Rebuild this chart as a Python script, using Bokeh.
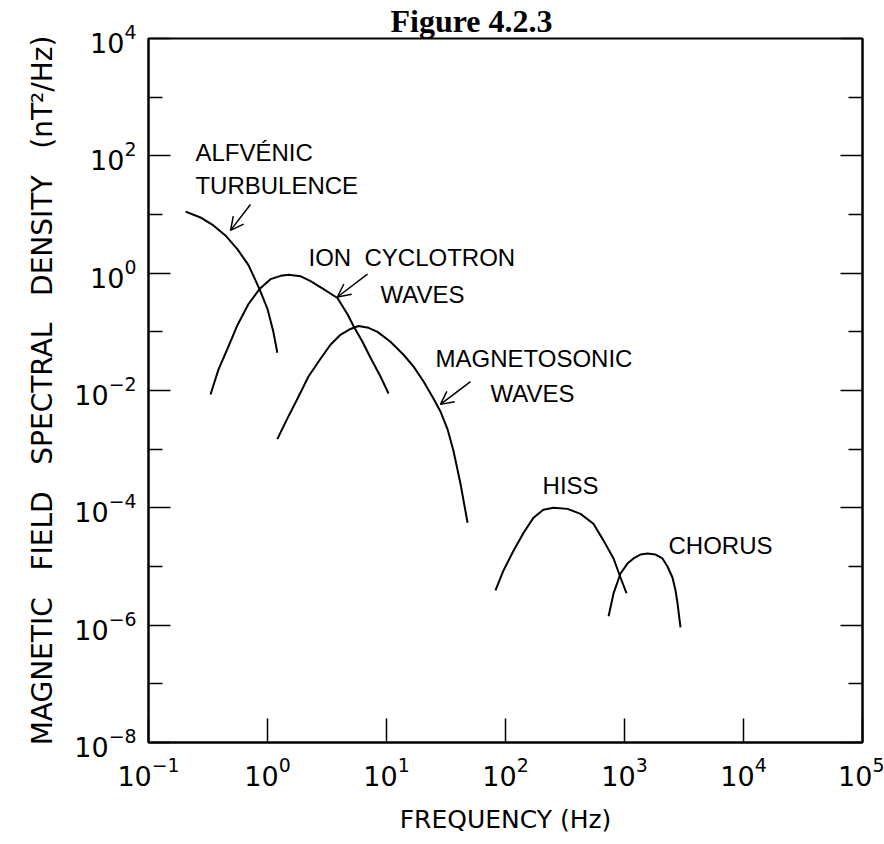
from bokeh.plotting import figure
from bokeh.models import Range1d, LogAxis, FixedTicker, Label, Arrow, OpenHead
from bokeh.embed import file_html
from bokeh.resources import INLINE

# ---- data ----
alfven_f = [0.205, 0.273, 0.351, 0.443, 0.56, 0.692, 0.857, 1.0, 1.12, 1.21]
alfven_s = [11.2, 8.9, 6.5, 4.4, 2.55, 1.37, 0.536, 0.245, 0.1, 0.044]

ion_f = [0.332, 0.387, 0.461, 0.56, 0.692, 0.857, 1.06, 1.29, 1.50, 1.89,
         2.30, 2.96, 3.87, 4.70, 5.28, 6.28, 7.34, 8.9, 10.4]
ion_s = [0.00855, 0.0227, 0.0515, 0.131, 0.298, 0.536, 0.79, 0.9, 0.94, 0.89,
         0.73, 0.536, 0.377, 0.2, 0.126, 0.0678, 0.0362, 0.0173, 0.0089]

mag_f = [1.21, 1.47, 1.79, 2.21, 2.79, 3.38, 4.10, 4.98, 5.82, 7.06, 8.4,
         10.8, 13.9, 16.9, 20.5, 24.8, 28.4, 32.6, 36.6, 41.9, 48.0]
mag_s = [0.00148, 0.00335, 0.0073, 0.0173, 0.0348, 0.0603, 0.089, 0.112, 0.126,
         0.117, 0.1, 0.0678, 0.0407, 0.0255, 0.0142, 0.0073, 0.0044, 0.00218,
         0.00092, 2.55e-4, 5.57e-5]

hiss_f = [82.4, 96.2, 117, 142, 172, 208, 253, 332, 427, 548, 667, 809, 925, 1040]
hiss_s = [3.9e-6, 8.55e-6, 1.87e-5, 3.77e-5, 6.8e-5, 9.25e-5, 1.0e-4, 9.6e-5,
          7.9e-5, 5.36e-5, 2.76e-5, 1.37e-5, 6.5e-6, 3.5e-6]

chorus_f = [735, 809, 925, 1059, 1190, 1362, 1560, 1822, 2085, 2297, 2530,
            2684, 2790, 2955]
chorus_s = [1.42e-6, 3.48e-6, 7.6e-6, 1.12e-5, 1.37e-5, 1.6e-5, 1.66e-5, 1.6e-5,
            1.37e-5, 1.0e-5, 6.5e-6, 3.9e-6, 2.36e-6, 9.2e-7]

x_ticks = [1e-1, 1e0, 1e1, 1e2, 1e3, 1e4, 1e5]
y_major = [1e-8, 1e-6, 1e-4, 1e-2, 1e0, 1e2, 1e4]
y_minor = [1e-7, 1e-5, 1e-3, 1e-1, 1e1, 1e3]

FONT = "DejaVu Sans"
LFONT = "Liberation Sans"
NB = "\u00a0"

p = figure(width=884, height=844, x_axis_type="log", y_axis_type="log",
           x_range=Range1d(1e-1, 1e5), y_range=Range1d(1e-8, 1e4),
           output_backend="svg", toolbar_location=None,
           min_border_left=148, min_border_right=22, min_border_top=35,
           min_border_bottom=102)

p.title.text = "Figure 4.2.3"
p.title.text_font = "Liberation Serif"
p.title.text_font_style = "bold"
p.title.text_font_size = "32px"
p.title.text_color = "black"
p.title.align = "left"
p.title.offset = 242
p.title.standoff = 0
p.title.text_line_height = 0.8

p.grid.visible = False
p.outline_line_color = "black"
p.outline_line_width = 2
p.background_fill_color = "white"
p.border_fill_color = "white"

p.xaxis.ticker = FixedTicker(ticks=x_ticks, minor_ticks=[])
p.yaxis.ticker = FixedTicker(ticks=y_major, minor_ticks=y_minor)

for ax in p.xaxis:
    ax.major_tick_in = 24
    ax.major_tick_out = 0
    ax.minor_tick_in = 0
    ax.minor_tick_out = 0
    ax.axis_line_width = 2
    ax.major_tick_line_width = 1.5
    ax.major_label_text_font = FONT
    ax.major_label_text_font_size = "27px"
    ax.major_label_text_color = "black"
    ax.major_label_standoff = 14
    ax.axis_label = "FREQUENCY (Hz)"
    ax.axis_label_text_font = FONT
    ax.axis_label_text_font_size = "25px"
    ax.axis_label_text_font_style = "normal"
    ax.axis_label_text_color = "black"
    ax.axis_label_standoff = 16

gap = " " + NB + NB
for ax in p.yaxis:
    ax.major_tick_in = 22
    ax.major_tick_out = 0
    ax.minor_tick_in = 14
    ax.minor_tick_out = 0
    ax.axis_line_width = 2
    ax.major_tick_line_width = 1.5
    ax.minor_tick_line_width = 1.5
    ax.minor_tick_line_color = "black"
    ax.major_label_text_font = FONT
    ax.major_label_text_font_size = "27px"
    ax.major_label_text_color = "black"
    ax.major_label_standoff = 12
    ax.axis_label = gap.join(["MAGNETIC", "FIELD", "SPECTRAL", "DENSITY",
                              "(nT\u00b2/Hz)"])
    ax.axis_label_text_font = FONT
    ax.axis_label_text_font_size = "28px"
    ax.axis_label_text_font_style = "normal"
    ax.axis_label_text_color = "black"
    ax.axis_label_standoff = 12

right_axis = LogAxis(ticker=FixedTicker(ticks=y_major, minor_ticks=y_minor),
                     major_tick_in=22, major_tick_out=0,
                     minor_tick_in=14, minor_tick_out=0,
                     axis_line_width=2, major_tick_line_width=1.5,
                     minor_tick_line_width=1.5,
                     major_label_text_font_size="1px",
                     major_label_text_color=None, major_label_standoff=0)
p.add_layout(right_axis, "right")

for fx, sy in [(alfven_f, alfven_s), (ion_f, ion_s), (mag_f, mag_s),
               (hiss_f, hiss_s), (chorus_f, chorus_s)]:
    p.line(fx, sy, line_color="black", line_width=2, line_join="round")

labels = [
    ("ALFV\u00c9NIC", 0.248, 112),
    ("TURBULENCE", 0.248, 30.9),
    ("ION" + NB + NB + "CYCLOTRON", 2.21, 1.87),
    ("WAVES", 8.9, 0.44),
    ("MAGNETOSONIC", 25.8, 0.0348),
    ("WAVES", 74.8, 0.0089),
    ("HISS", 205, 2.45e-4),
    ("CHORUS", 2344, 2.27e-5),
]
for txt, lx, ly in labels:
    p.add_layout(Label(x=lx, y=ly, text=txt, text_font=LFONT,
                       text_font_size="24px", text_align="left",
                       text_baseline="middle", text_color="black"))

arrows = [
    (0.719, 14.8, 0.489, 5.36),
    (6.92, 0.962, 3.87, 0.392),
    (50.8, 0.0142, 28.4, 0.0058),
]
for xs, ys, xe, ye in arrows:
    p.add_layout(Arrow(end=OpenHead(size=13, line_width=1.5, line_color="black"),
                       x_start=xs, y_start=ys, x_end=xe, y_end=ye,
                       line_width=1.5, line_color="black"))

open("out.html", "w").write(file_html(p, INLINE))
